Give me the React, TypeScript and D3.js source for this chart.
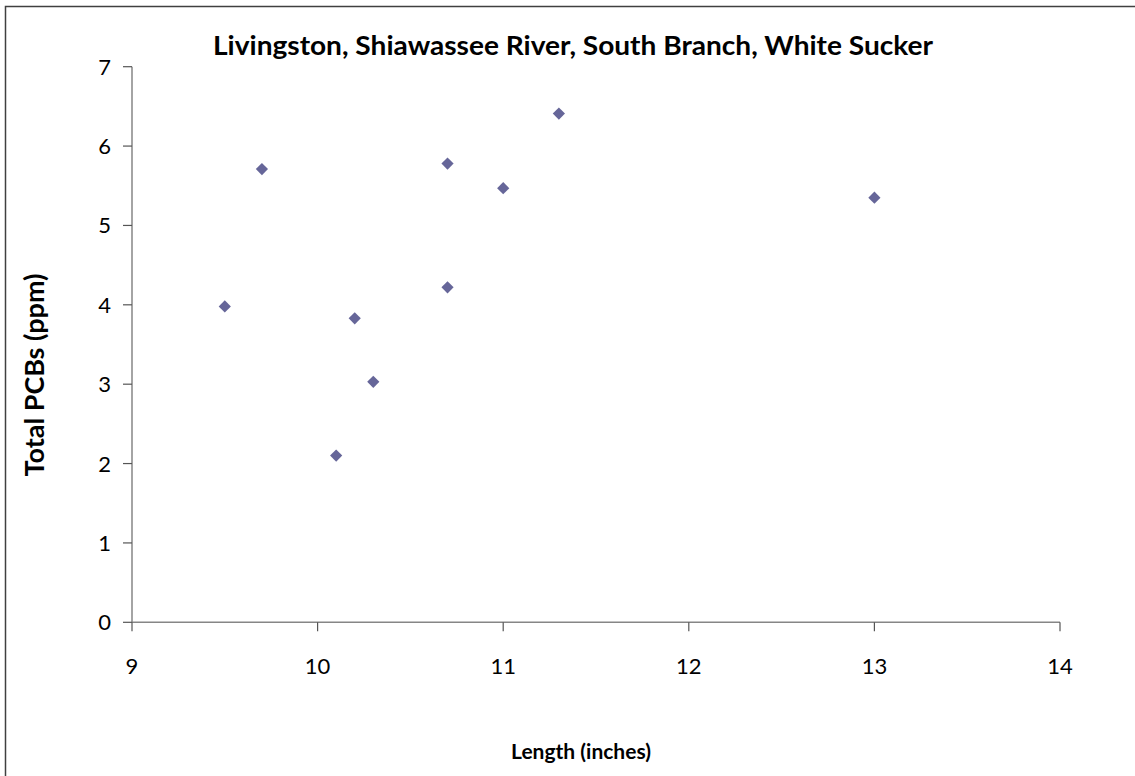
import React from "react";
import * as d3 from "d3";

const lengths = [9.5, 9.7, 10.1, 10.2, 10.3, 10.7, 10.7, 11.0, 11.3, 13.0];
const pcbs = [3.98, 5.71, 2.1, 3.83, 3.03, 5.78, 4.22, 5.47, 6.41, 5.35];
const xTicks = [9, 10, 11, 12, 13, 14];
const yTicks = [0, 1, 2, 3, 4, 5, 6, 7];
const title = "Livingston, Shiawassee River, South Branch, White Sucker";
const xLabel = "Length (inches)";
const yLabel = "Total PCBs (ppm)";

const W = 1135;
const H = 776;
const left = 132;
const right = 1060;
const top = 66.7;
const bottom = 622.3;
const font = "Lato, 'Open Sans', sans-serif";
const axisColor = "#868686";

export default function App() {
  const x = d3.scaleLinear().domain([9, 14]).range([left, right]);
  const y = d3.scaleLinear().domain([0, 7]).range([bottom, top]);
  const diamond = d3.symbol().type(d3.symbolDiamond2).size(95)();
  return (
    <svg
      width={W}
      height={H}
      style={{ position: "absolute", left: 0, top: 0, background: "#fff" }}
    >
      <rect x={0} y={0} width={W} height={H} fill="#fff" />
      <rect x={5.5} y={6.5} width={W + 20} height={H + 20} fill="none" stroke="#404040" strokeWidth={1.5} />
      <text
        x={573}
        y={55}
        textAnchor="middle"
        fontFamily={font}
        fontWeight="bold"
        fontSize={26}
        textLength={720}
        lengthAdjust="spacingAndGlyphs"
      >
        {title}
      </text>
      {/* axes */}
      <line x1={left} x2={left} y1={top} y2={bottom} stroke={axisColor} strokeWidth={1.5} />
      <line x1={left} x2={right} y1={bottom} y2={bottom} stroke={axisColor} strokeWidth={1.5} />
      {yTicks.map((t) => (
        <g key={"y" + t}>
          <line x1={left - 9} x2={left} y1={y(t)} y2={y(t)} stroke="#555" strokeWidth={1.2} />
          <text x={111} y={y(t) + 8} textAnchor="end" fontFamily={font} fontSize={22}>
            {t}
          </text>
        </g>
      ))}
      {xTicks.map((t) => (
        <g key={"x" + t}>
          <line x1={x(t)} x2={x(t)} y1={bottom} y2={bottom + 9} stroke="#555" strokeWidth={1.2} />
          <text x={x(t)} y={674} textAnchor="middle" fontFamily={font} fontSize={22}>
            {t}
          </text>
        </g>
      ))}
      <text
        x={581}
        y={759}
        textAnchor="middle"
        fontFamily={font}
        fontWeight="bold"
        fontSize={21}
      >
        {xLabel}
      </text>
      <text
        transform={`translate(44,375) rotate(-90)`}
        textAnchor="middle"
        fontFamily={font}
        fontWeight="bold"
        fontSize={27}
      >
        {yLabel}
      </text>
      {lengths.map((v, i) => (
        <path
          key={i}
          d={diamond}
          transform={`translate(${x(v)},${y(pcbs[i])})`}
          fill="#666699"
        />
      ))}
    </svg>
  );
}
